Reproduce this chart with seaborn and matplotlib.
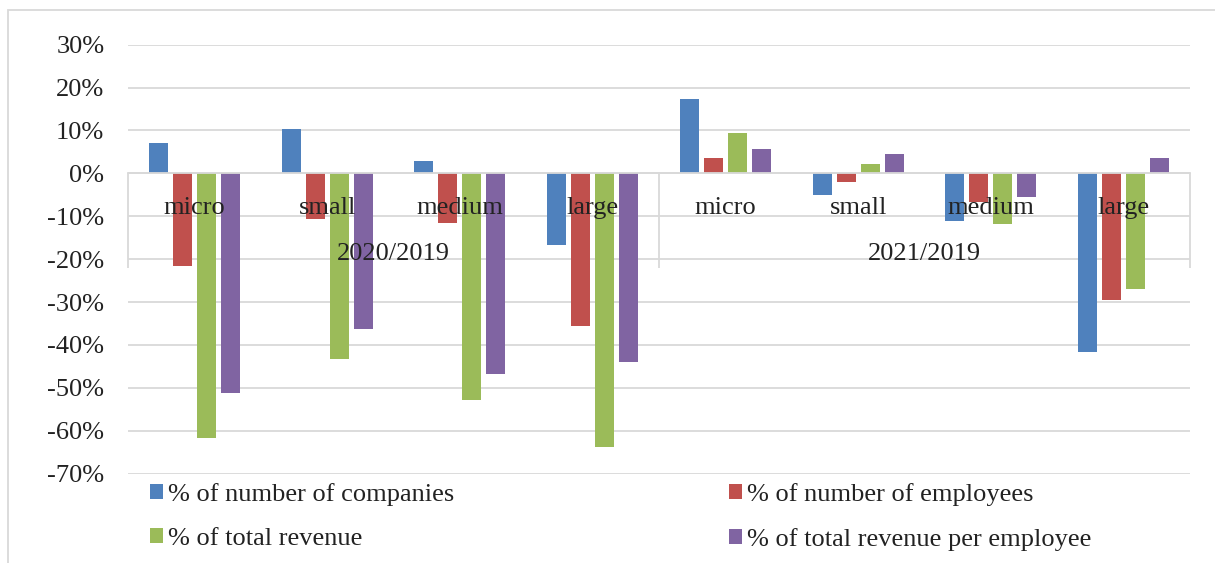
import pandas as pd
import seaborn as sns
import matplotlib.pyplot as plt
from matplotlib.patches import Rectangle
from matplotlib.ticker import PercentFormatter

# categories
periods = ["2020/2019", "2021/2019"]
sizes = ["micro", "small", "medium", "large"]
series = ["% of number of companies", "% of number of employees",
          "% of total revenue", "% of total revenue per employee"]

# values (% change), order: micro, small, medium, large per period
companies = [7.0, 10.3, 2.8, -16.7, 17.3, -5.0, -11.2, -41.6]
employees = [-21.7, -10.6, -11.6, -35.6, 3.5, -2.1, -6.6, -29.6]
revenue = [-61.7, -43.2, -52.8, -63.9, 9.4, 2.2, -11.8, -27.0]
revenue_per_emp = [-51.1, -36.4, -46.7, -44.0, 5.6, 4.5, -5.4, 3.5]

colors = ["#4F81BD", "#C0504D", "#9BBB59", "#8064A2"]

# long table for seaborn
keys = [f"{p} {s}" for p in periods for s in sizes]
rows = []
for name, vals in zip(series, [companies, employees, revenue, revenue_per_emp]):
    for k, v in zip(keys, vals):
        rows.append({"key": k, "series": name, "value": v})
df = pd.DataFrame(rows)

sns.set_style("white")
plt.rcParams["font.family"] = ["Liberation Serif", "DejaVu Serif"]
plt.rcParams["axes.unicode_minus"] = False
text_col = "#222222"
grid_col = "#D9D9D9"

fig = plt.figure(figsize=(12.15, 5.63), dpi=100)
ax = fig.add_axes([128 / 1215, 89.4 / 563, (1190 - 128) / 1215, (473.6 - 44.7) / 563])

sns.barplot(data=df, x="key", y="value", hue="series", order=keys,
            hue_order=series, palette=colors, width=0.723, gap=0.21,
            linewidth=0, saturation=1, ax=ax)

ax.set_ylim(-70, 30)
ax.set_xlim(-0.5, len(keys) - 0.5)
ax.set_yticks(range(-70, 31, 10))
ax.yaxis.set_major_formatter(PercentFormatter(decimals=0))
ax.yaxis.grid(True, color=grid_col, lw=1.3)
ax.set_axisbelow(True)
ax.xaxis.set_zorder(5)  # category labels sit on top of the bars

for side in ["top", "left", "right"]:
    ax.spines[side].set_visible(False)
ax.spines["bottom"].set_position(("data", 0))
ax.spines["bottom"].set_color(grid_col)
ax.spines["bottom"].set_linewidth(1.3)

ax.set_xticks(range(len(keys)))
ax.set_xticklabels(sizes * len(periods))
ax.tick_params(axis="x", length=0, pad=17, labelsize=19, colors=text_col)
ax.tick_params(axis="y", length=0, pad=17, labelsize=19, colors=text_col)
ax.set_xlabel("")
ax.set_ylabel("")

# multi-level category axis separators and period labels
ax.vlines([-0.5, 3.5, 7.5], -22, 0, color=grid_col, lw=1.3, clip_on=False)
for i, p in enumerate(periods):
    ax.text(i * len(sizes) + (len(sizes) - 1) / 2, -18.8, p, ha="center",
            va="center", fontsize=19, color=text_col, zorder=5)

# legend laid out row-wise like the original
handles, labels = ax.get_legend_handles_labels()
ax.get_legend().remove()
order = [0, 2, 1, 3]
fig.legend([handles[i] for i in order], [labels[i] for i in order],
           loc="upper left", bbox_to_anchor=(126 / 1215, 1 - 459 / 563),
           ncol=2, frameon=False, fontsize=19, handlelength=0.5,
           handleheight=0.5, handletextpad=0.19, columnspacing=10.42,
           labelspacing=0.83, labelcolor=text_col)

# outer chart border
fig.add_artist(Rectangle((8 / 1215, -0.1), 1.2, 1.1 - 10 / 563, transform=fig.transFigure,
                         fill=False, edgecolor=grid_col, lw=1.3))

fig.savefig("out.png", dpi=100)
